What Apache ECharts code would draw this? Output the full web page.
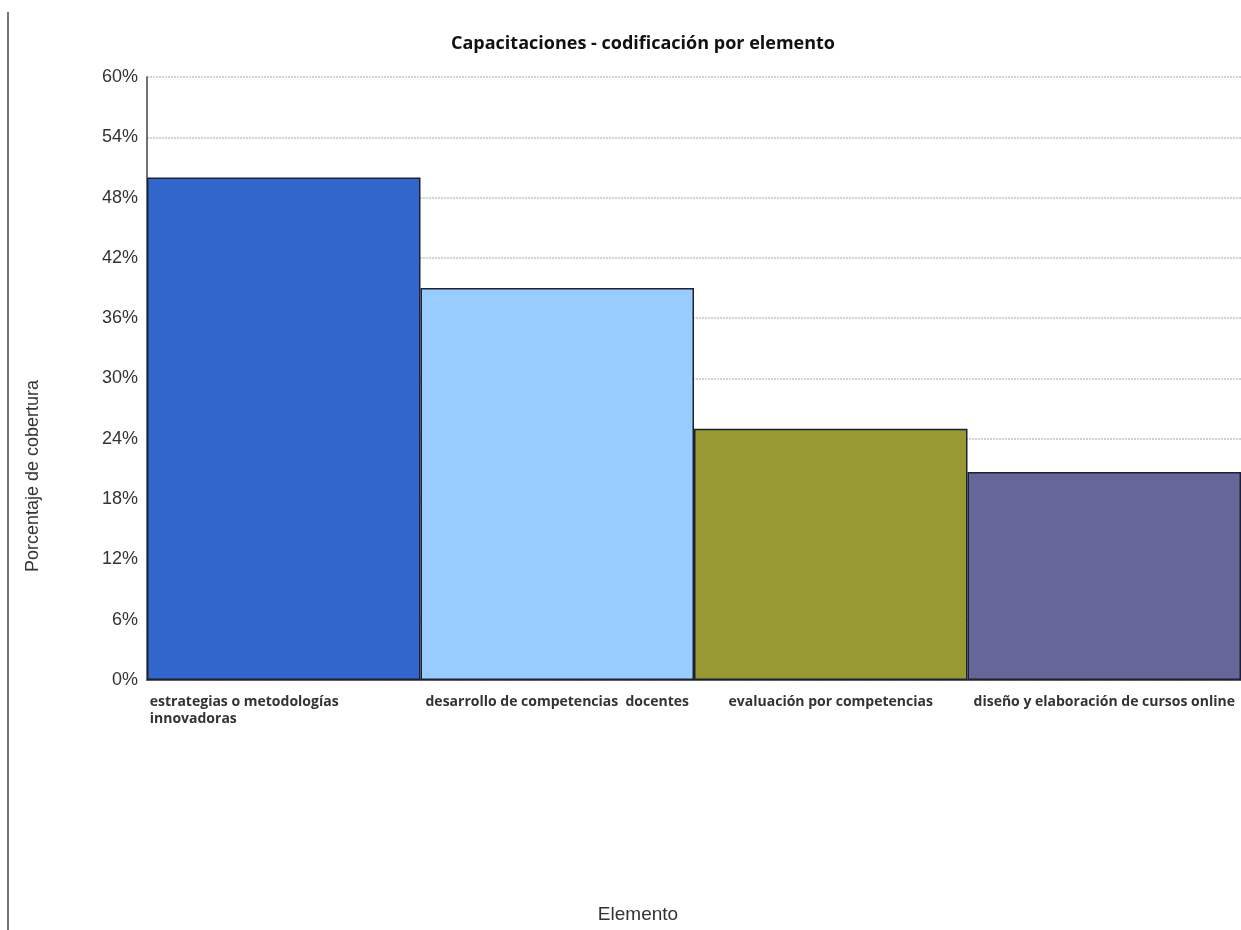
<!DOCTYPE html>
<html>
<head>
<meta charset="utf-8">
<script src="https://cdn.jsdelivr.net/npm/echarts@6/dist/echarts.min.js"></script>
<style>
  html, body { margin: 0; padding: 0; background: #fff; overflow: hidden; }
  #chart { width: 1241px; height: 930px; }
</style>
</head>
<body>
<div id="chart"></div>
<script>
// Coverage per training element (percent)
const categories = [
  'estrategias o metodologías\ninnovadoras',
  'desarrollo de competencias  docentes',
  'evaluación por competencias',
  'diseño y elaboración de cursos online'
];
const coverage = [50, 39, 25, 20.7];
const barColors = ['#3366CC', '#99CCFF', '#999933', '#666699'];
const yTicks = { min: 0, max: 60, interval: 6 };

const chart = echarts.init(document.getElementById('chart'));

chart.setOption({
  animation: false,
  backgroundColor: '#ffffff',
  title: {
    text: 'Capacitaciones - codificación por elemento',
    left: 446,
    top: 30,
    textStyle: { fontFamily: 'Open Sans', fontWeight: 'bold', fontSize: 18, color: '#111' }
  },
  grid: { left: 147, right: 0, top: 77, bottom: 250, outerBoundsMode: 'none', containLabel: false },
  xAxis: {
    type: 'category',
    data: categories,
    boundaryGap: true,
    axisLine: { show: true, lineStyle: { color: '#333', width: 1.5 } },
    axisTick: { show: false },
    splitLine: { show: false },
    axisLabel: {
      show: true,
      interval: 0,
      margin: 14,
      verticalAlign: 'top',
      fontFamily: 'Open Sans',
      fontWeight: 'bold',
      fontSize: 14,
      lineHeight: 17,
      color: '#333',
      // the wrapped first name sits flush-left under its bar
      formatter: function (value, index) {
        if (index === 0) {
          return value.split('\n').map(function (s) { return '{l|' + s + '}'; }).join('\n');
        }
        return value;
      },
      rich: {
        l: {
          width: 192,
          align: 'left',
          padding: [0, 76, 0, 0],
          fontFamily: 'Open Sans',
          fontWeight: 'bold',
          fontSize: 14,
          lineHeight: 17,
          color: '#333'
        }
      }
    }
  },
  yAxis: {
    type: 'value',
    min: yTicks.min,
    max: yTicks.max,
    interval: yTicks.interval,
    axisLine: { show: true, lineStyle: { color: '#444', width: 1.5 } },
    axisTick: { show: false },
    axisLabel: {
      margin: 9,
      fontFamily: 'Liberation Sans',
      fontSize: 18,
      color: '#333',
      formatter: '{value}%'
    },
    splitLine: { show: true, lineStyle: { color: '#c4c4c4', type: [2, 1], width: 1.5 } }
  },
  series: [{
    type: 'bar',
    barCategoryGap: 0,
    barGap: 0,
    data: coverage.map(function (v, i) {
      return { value: v, itemStyle: { color: barColors[i] } };
    }),
    itemStyle: { borderColor: '#1c2233', borderWidth: 1.5 }
  }],
  graphic: [
    {
      type: 'line',
      shape: { x1: 8, y1: 12, x2: 8, y2: 930 },
      style: { stroke: '#444', lineWidth: 1.5 }
    },
    {
      type: 'text',
      x: 33, y: 476,
      rotation: Math.PI / 2,
      style: {
        text: 'Porcentaje de cobertura',
        fontFamily: 'Liberation Sans', fontSize: 18, fill: '#333',
        align: 'center', verticalAlign: 'middle'
      }
    },
    {
      type: 'text',
      x: 638, y: 915,
      style: {
        text: 'Elemento',
        fontFamily: 'Liberation Sans', fontSize: 19, fill: '#333',
        align: 'center', verticalAlign: 'middle'
      }
    }
  ]
});
</script>
</body>
</html>
